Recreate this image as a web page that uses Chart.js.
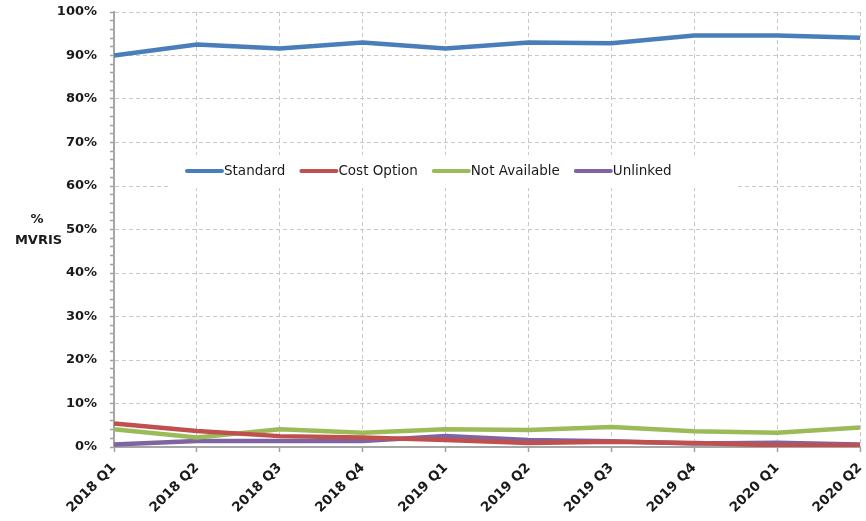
<!DOCTYPE html>
<html>
<head>
<meta charset="utf-8">
<script src="https://cdn.jsdelivr.net/npm/chart.js@4"></script>
<style>
  html, body { margin: 0; padding: 0; background: #fff; }
  #wrap { width: 866px; height: 521px; position: relative; }
</style>
</head>
<body>
<div id="wrap"><canvas id="c" width="866" height="521"></canvas></div>
<script>
const categories = ['2018 Q1','2018 Q2','2018 Q3','2018 Q4','2019 Q1','2019 Q2','2019 Q3','2019 Q4','2020 Q1','2020 Q2'];
const standard     = [90.0, 92.5, 91.6, 93.0, 91.6, 93.0, 92.8, 94.6, 94.6, 94.1];
const costOption   = [5.4, 3.7, 2.5, 2.2, 1.6, 0.9, 1.2, 0.9, 0.4, 0.4];
const notAvailable = [4.1, 2.2, 4.1, 3.3, 4.1, 3.9, 4.6, 3.6, 3.3, 4.5];
const unlinked     = [0.6, 1.4, 1.4, 1.4, 2.5, 1.6, 1.3, 0.8, 1.0, 0.6];
const seriesNames  = ['Standard', 'Cost Option', 'Not Available', 'Unlinked'];
const seriesColors = ['#4A7EBB', '#C0504D', '#9BBB59', '#8064A2'];
const yAxisTitle   = ['%', 'MVRIS'];

const FONT = "'DejaVu Sans', sans-serif";

const legendPlugin = {
  id: 'innerLegend',
  afterDraw(chart) {
    const ctx = chart.ctx;
    ctx.save();
    ctx.fillStyle = '#fff';
    ctx.fillRect(170, 155, 565, 33);
    ctx.font = '13.5px ' + FONT;
    ctx.textBaseline = 'middle';
    ctx.textAlign = 'left';
    let x = 187;
    const y = 171;
    chart.data.datasets.forEach((ds) => {
      ctx.strokeStyle = ds.borderColor;
      ctx.lineWidth = 4;
      ctx.lineCap = 'round';
      ctx.beginPath();
      ctx.moveTo(x, y);
      ctx.lineTo(x + 35, y);
      ctx.stroke();
      ctx.fillStyle = '#1a1a1a';
      ctx.fillText(ds.label, x + 37, y);
      x += 37 + ctx.measureText(ds.label).width + 16;
    });
    ctx.font = 'bold 13px ' + FONT;
    ctx.textAlign = 'center';
    ctx.fillStyle = '#1a1a1a';
    ctx.fillText(yAxisTitle[0], 37, 220);
    ctx.fillText(yAxisTitle[1], 38.5, 241);
    ctx.restore();
  }
};

const datasets = [standard, costOption, notAvailable, unlinked].map((d, i) => ({
  label: seriesNames[i],
  data: d,
  borderColor: seriesColors[i],
  backgroundColor: seriesColors[i],
  borderWidth: 4.5,
  pointRadius: 0,
  tension: 0,
  fill: false
}));

new Chart(document.getElementById('c'), {
  type: 'line',
  data: { labels: categories, datasets },
  options: {
    responsive: false,
    animation: false,
    layout: { padding: { top: 12, right: 6, left: 0, bottom: 0 } },
    plugins: { legend: { display: false }, tooltip: { enabled: false } },
    scales: {
      x: {
        offset: false,
        grid: { color: '#c8c8c8', lineWidth: 1, tickLength: 5, tickColor: '#a0a0a0', tickWidth: 1.5 },
        border: { display: true, color: '#a6a6a6', width: 2, dash: [4, 3] },
        ticks: {
          font: { family: FONT, size: 13.5, weight: 'bold' },
          color: '#1a1a1a',
          maxRotation: 45, minRotation: 45,
          autoSkip: false, padding: 8
        },
        afterFit(scale) { scale.height = 74; scale.paddingRight = 0; scale.paddingLeft = 0; }
      },
      y: {
        min: 0, max: 100,
        grid: {
          color: (c) => (c.tick && c.tick.value % 10 === 0) ? '#c8c8c8' : 'rgba(0,0,0,0)',
          lineWidth: 1, tickLength: 4, tickColor: '#a0a0a0', tickWidth: 1.5
        },
        border: { display: true, color: '#a6a6a6', width: 2, dash: [4, 3] },
        ticks: {
          stepSize: 2,
          autoSkip: false,
          font: { family: FONT, size: 13, weight: 'bold' },
          color: '#1a1a1a',
          padding: 13,
          callback: (v) => (v % 10 === 0) ? v + '%' : ''
        },
        afterFit(scale) { scale.width = 114; scale.paddingTop = 0; scale.paddingBottom = 0; }
      }
    }
  },
  plugins: [legendPlugin]
});
</script>
</body>
</html>
